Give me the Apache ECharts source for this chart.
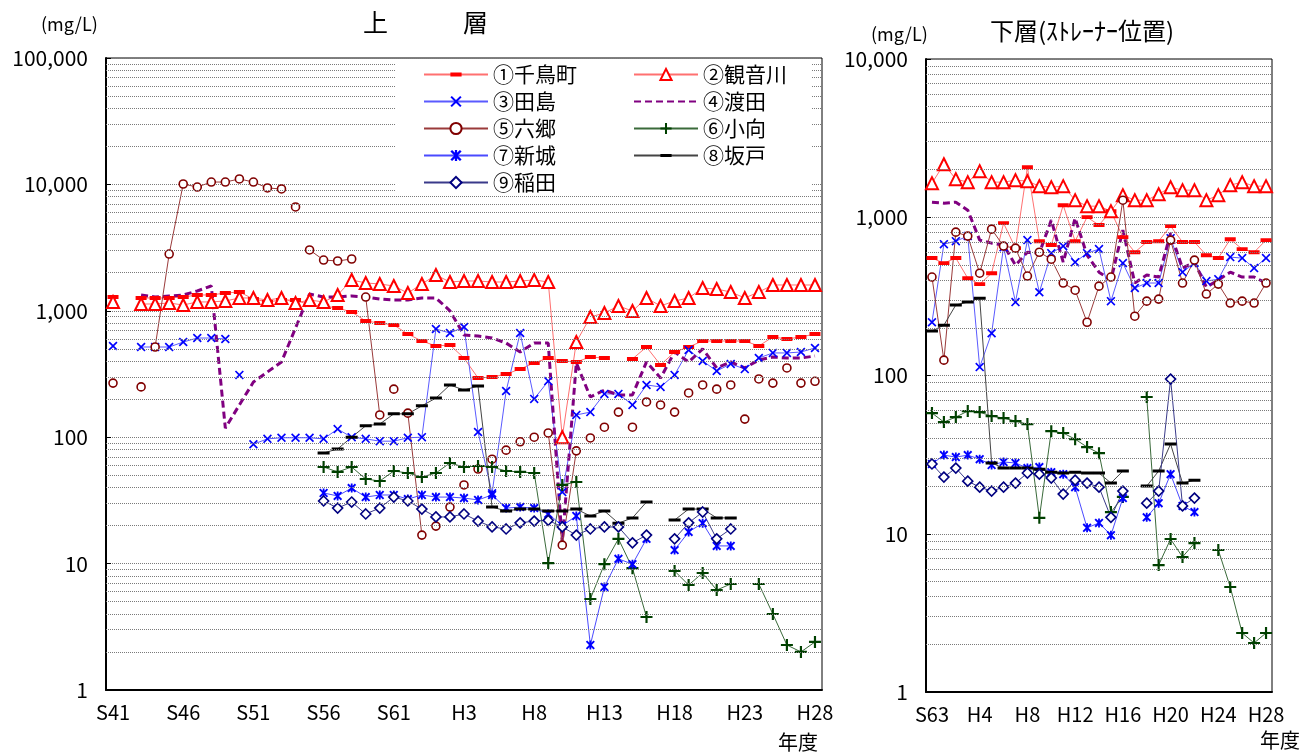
<!DOCTYPE html>
<html>
<head>
<meta charset="utf-8">
<script src="https://cdn.jsdelivr.net/npm/echarts@6/dist/echarts.min.js"></script>
<style>
  html, body { margin: 0; background: #fff; }
  #chart { width: 1310px; height: 753px; }
</style>
</head>
<body>
<div id="chart"></div>
<script>
const FONT = '"Noto Sans CJK JP", "Noto Sans", sans-serif'

// 年度 (x categories)
const yearsUpper = ['S41', 'S42', 'S43', 'S44', 'S45', 'S46', 'S47', 'S48', 'S49', 'S50',
  'S51', 'S52', 'S53', 'S54', 'S55', 'S56', 'S57', 'S58', 'S59', 'S60', 'S61', 'S62', 'S63',
  'H1', 'H2', 'H3', 'H4', 'H5', 'H6', 'H7', 'H8', 'H9', 'H10', 'H11', 'H12', 'H13', 'H14',
  'H15', 'H16', 'H17', 'H18', 'H19', 'H20', 'H21', 'H22', 'H23', 'H24', 'H25', 'H26', 'H27', 'H28']
const yearsLower = ['S63', 'H1', 'H2', 'H3', 'H4', 'H5', 'H6', 'H7', 'H8', 'H9', 'H10', 'H11',
  'H12', 'H13', 'H14', 'H15', 'H16', 'H17', 'H18', 'H19', 'H20', 'H21', 'H22', 'H23', 'H24',
  'H25', 'H26', 'H27', 'H28']

// 上層 (mg/L)
const chidoriUpper = [1286, null, 1263, 1263, 1263, 1286, 1334, 1334, 1383, 1408,
  1240, 1175, 1217, 1217, 1111, 1092, 1052, 979, 830, 800,
  772, 655, 577, 527, 536, 423, 294, 299, 316, 346,
  387, 423, 401, 394, 431, 423, null, 416, 517, 373,
  472, 517, 577, 577, 577, 577, 527, 621, 598, 621, 655]
const kannonUpper = [1175, null, 1132, 1132, 1153, 1111, 1175, 1175, 1196, 1263,
  1263, 1217, 1263, 1153, 1217, 1175, 1334, 1754, 1660, 1630,
  1571, 1383, 1630, 1920, 1690, 1721, 1721, 1690, 1690, 1721,
  1754, 1690, 100, 566, 893, 961, 1092, 996, 1263, 1092,
  1196, 1263, 1514, 1486, 1408, 1263, 1408, 1600, 1600, 1600, 1600]
const tajimaUpper = [527, null, 517, 517, 517, 566, 609, 609, 598, 311,
  88, 97, 99, 99, 99, 97, 116, 100, 97, 93,
  93, 99, 100, 718, 667, 745, 110, 36, 232, 667,
  201, 278, 36.8, 150, 158, 220, 220, 180, 259, 250,
  311, 490, 401, 334, 380, 346, 423, 464, 464, 472, 508]
const watariUpper = [null, null, 1334, 1286, 1310, 1334, 1435, 1571, 118, 180,
  273, 328, 394, 731, 1358, 1286, 1286, 1310, 1286, 1240,
  1217, 1217, 1263, 1263, 1000, 644, 632, 609, 556, 472,
  556, 556, 14.6, 387, 208, 236, 216, 216, 394, 294,
  472, 394, 499, 353, 394, 353, 408, 431, 423, 423, 439]
const rokugoUpper = [268, null, 250, 517, 2813, 10070, 9530, 10440, 10440, 11040,
  10440, 9370, 9200, 6630, 3030, 2522, 2478, 2570, 1285, 150,
  240, 155, 16.8, 19.8, 28, 41.9, 56, 67, 79, 92,
  100, 108, 14, 78, 98.6, 120, 158, 120, 190, 180,
  158, 224, 259, 240, 259, 139, 289, 268, 353, 268, 277]
const komukaiUpper = [null, null, null, null, null, null, null, null, null, null,
  null, null, null, null, null, 58.1, 53.1, 58.1, 46.7, 45.0,
  54.0, 52.1, 48.4, 52.1, 62.5, 58.1, 59.2, 58.1, 54.0, 53.1,
  52.1, 10.1, 41.9, 44.2, 5.25, 9.9, 15.7, 9.2, 3.78, null,
  8.74, 6.77, 8.43, 6.18, 6.9, null, 6.9, 3.99, 2.27, 2.0, 2.4]
const shinjoUpper = [null, null, null, null, null, null, null, null, null, null,
  null, null, null, null, null, 36.2, 34.3, 39.6, 33.6, 34.9,
  34.9, 32.4, 34.9, 33.6, 33.6, 33.0, 31.9, 34.9, 27.5, 28.0,
  27.5, 24.7, 20, 23.8, 2.27, 6.53, 10.9, 9.9, 15.7, null,
  12.8, 17.8, 20.9, 13.8, 13.8]
const sakadoUpper = [null, null, null, null, null, null, null, null, null, null,
  null, null, null, null, null, 75, 80.7, 100, 123, 127,
  153, 153, 177, 204, 259, 236, 254, 28.0, 26.1, 27.0,
  27.0, 26.1, 26.1, 27.0, 23.8, 26.1, 20.9, 23.0, 30.7, null,
  22.1, 27.0, 27.0, 23.0, 23.0]
const inadaUpper = [null, null, null, null, null, null, null, null, null, null,
  null, null, null, null, null, 31.3, 27.5, 30.7, 24.7, 27.5,
  33.6, 31.3, 27.0, 23.4, 23.4, 24.7, 21.7, 19.5, 18.8, 21.0,
  21.7, 22, 19.5, 16.8, 18.8, 19.5, 19.5, 14.6, 16.8, null,
  15.7, 21.0, 25.6, 15.7, 18.8]

// connected stretches (index ranges) where the reference joins the points
const rokugoUpperLinks = [[3, 12], [14, 17], [18, 19], [21, 22], [31, 33]]
const tajimaUpperLinks = [[2, 8], [10, 50]]

// 下層(ストレーナー位置) (mg/L)
const chidoriLower = [552, 513, 552, 412, 378, 443, 918, 638, 2072, 706,
  667, 1192, 706, 1002, 892, 1092, 749, 601, 697, 706,
  879, 697, 697, 576, 552, 727, 629, 601, 717]
const kannonLower = [1642, 2164, 1741, 1667, 1955, 1667, 1667, 1715, 1691, 1572,
  1549, 1572, 1282, 1175, 1175, 1093, 1379, 1282, 1282, 1399,
  1549, 1483, 1483, 1282, 1379, 1595, 1667, 1572, 1572]
const tajimaLower = [217, 676, 706, 760, 113, 185, 647, 291, 717, 336,
  593, 657, 520, 593, 629, 295, 513, 357, 384, 384,
  738, 450, 513, 395, 406, 560, 552, 477, 552]
const watariLower = [1245, 1227, 1245, 1109, 717, 686, 667, 498, 601, 593,
  959, 520, 986, 576, 450, 401, 829, 384, 431, 419,
  794, 477, 520, 362, 401, 450, 419, 419, 384]
const rokugoLower = [419, 125, 805, 760, 443, 841, 657, 638, 425, 601,
  543, 384, 346, 217, 367, 419, 1282, 237, 295, 304,
  717, 384, 536, 327, 378, 287, 295, 287, 384]
const komukaiLower = [57.9, 50.8, 54.6, 59.6, 58.7, 55.4, 53.8, 51.5, 49.3, 12.6,
  44.5, 43.3, 39.6, 35.3, 32.3, 13.7, 17.1, null, 73.1, 6.34,
  9.26, 7.13, 8.73, null, 7.89, 4.61, 2.36, 2.04, 2.36]
const shinjoLower = [27.6, 31.4, 30.5, 31.4, 29.6, 27.2, 28.4, 28.0, 26.0, 26.4,
  24.5, 23.8, 19.7, 10.9, 11.7, 9.8, 16.8, null, 12.7, 15.6,
  23.8, 15.0, 13.7]
const sakadoLower = [191, 208, 279, 291, 308, 28.0, 26.0, 26.0, 26.0, 25.6,
  24.5, 24.2, 24.5, 24.2, 24.2, 20.9, 24.9, null, 20.0, 24.9,
  36.9, 20.9, 21.8]
const inadaLower = [27.6, 22.8, 26.0, 21.5, 19.7, 18.6, 19.7, 20.9, 24.2, 23.8,
  22.5, 17.8, 21.8, 20.9, 19.7, 12.7, 18.6, null, 15.6, 18.6,
  94.9, 15.0, 16.8]

const yTicksUpper = [1, 10, 100, 1000, 10000, 100000]
const yTicksLower = [1, 10, 100, 1000, 10000]
const minorSteps = [2, 3, 4, 5, 6, 7, 8, 9]

// marker shapes (bars padded to a square box so the legend keeps them flat)
const BAR = 'path://M0,3.2H10V6.8H0Z M0,0L0.001,0Z M10,10L9.999,10Z'
const DASH = 'path://M0,4.5H12V7.5H0Z M0,0L0.001,0Z M12,12L11.999,12Z'
const CROSS = 'path://M0,1.3L1.3,0L5,3.7L8.7,0L10,1.3L6.3,5L10,8.7L8.7,10L5,6.3L1.3,10L0,8.7L3.7,5Z'
const STAR = 'path://M0,1.5L1.5,0L5,3.5L8.5,0L10,1.5L6.5,5L10,8.5L8.5,10L5,6.5L1.5,10L0,8.5L3.5,5Z M4,0H6V10H4Z'
const PLUS = 'path://M4.1,0H5.9V4.1H10V5.9H5.9V10H4.1V5.9H0V4.1H4.1Z'

const stations = [
  { name: '①千鳥町', upper: chidoriUpper, lower: chidoriLower, line: '#ff7070', symbol: BAR, size: 11,
    item: { color: '#ff0000' } },
  { name: '②観音川', upper: kannonUpper, lower: kannonLower, line: '#ff7070', symbol: 'triangle', size: 12,
    item: { color: '#fff', borderColor: '#ff0000', borderWidth: 2 } },
  { name: '③田島', upper: tajimaUpper, lower: tajimaLower, upperLinks: tajimaUpperLinks, line: '#5a5aff',
    symbol: CROSS, size: 9, item: { color: '#0000ff' } },
  { name: '④渡田', upper: watariUpper, lower: watariLower, line: '#800080', width: 3, dash: [7, 4] },
  { name: '⑤六郷', upper: rokugoUpper, lower: rokugoLower, upperLinks: rokugoUpperLinks, line: '#9a3a3a',
    symbol: 'circle', size: 8, item: { color: '#fff', borderColor: '#800000', borderWidth: 1.6 } },
  { name: '⑥小向', upper: komukaiUpper, lower: komukaiLower, line: '#3a6a3a', symbol: PLUS, size: 12,
    item: { color: '#004000' } },
  { name: '⑦新城', upper: shinjoUpper, lower: shinjoLower, line: '#4a4aff', symbol: STAR, size: 9,
    item: { color: '#0000ff' } },
  { name: '⑧坂戸', upper: sakadoUpper, lower: sakadoLower, line: '#444', symbol: DASH, size: 12,
    item: { color: '#000' } },
  { name: '⑨稲田', upper: inadaUpper, lower: inadaLower, line: '#3a3a8a', symbol: 'diamond', size: 10,
    item: { color: '#fff', borderColor: '#000080', borderWidth: 1.6 } }
]

function linkRuns (values, links) {
  if (links) return links
  const runs = []
  let start = null
  values.forEach((v, i) => {
    if (v == null) {
      if (start !== null && i - 1 > start) runs.push([start, i - 1])
      start = null
    } else if (start === null) start = i
  })
  if (start !== null && values.length - 1 > start) runs.push([start, values.length - 1])
  return runs
}

function lineLayers (values, runs) {
  const layers = [values.map(() => null), values.map(() => null)]
  runs.forEach((r, k) => {
    for (let i = r[0]; i <= r[1]; i++) layers[k % 2][i] = values[i]
  })
  return layers.filter(l => l.some(v => v != null))
}

function stationSeries (st, values, links, idx) {
  const out = lineLayers(values, linkRuns(values, links)).map(layer => ({
    type: 'line', xAxisIndex: idx, yAxisIndex: idx, data: layer, symbol: 'none', silent: true, z: 2,
    lineStyle: { color: st.line, width: st.width || 1, type: st.dash || 'solid' }
  }))
  if (st.symbol) {
    out.push({
      name: st.name, type: 'line', xAxisIndex: idx, yAxisIndex: idx, data: values, z: 3,
      symbol: st.symbol, symbolSize: st.size, symbolKeepAspect: true, showAllSymbol: true,
      itemStyle: st.item, lineStyle: { color: st.line, width: 1, opacity: 0 }
    })
  } else {
    out[0].name = st.name
  }
  return out
}

function gridSeries (idx, decades) {
  const marks = []
  decades.forEach(d => minorSteps.forEach(m => marks.push({ yAxis: d * m })))
  return {
    type: 'line', xAxisIndex: idx, yAxisIndex: idx, data: [], silent: true, z: 1,
    markLine: {
      silent: true, symbol: 'none', label: { show: false }, animation: false,
      lineStyle: { color: '#7a7a7a', type: 'dotted', width: 1 },
      data: marks
    }
  }
}

const series = [gridSeries(0, yTicksUpper.slice(0, -1)), gridSeries(1, yTicksLower.slice(0, -1))]
stations.forEach(st => {
  series.push(...stationSeries(st, st.upper, st.upperLinks, 0))
})
stations.forEach(st => {
  series.push(...stationSeries(st, st.lower, st.lowerLinks, 1))
})

function xAxis (idx, data, every) {
  return {
    type: 'category', gridIndex: idx, data: data, boundaryGap: true,
    axisLine: { lineStyle: { color: '#000', width: 2 } },
    axisTick: { inside: true, length: 5, interval: 0, lineStyle: { color: '#888' } },
    axisLabel: { interval: every, color: '#000', fontSize: 20, fontFamily: FONT, margin: 12 },
    splitLine: { show: false }
  }
}

function yAxis (idx, ticks) {
  return {
    type: 'log', logBase: 10, gridIndex: idx, min: ticks[0], max: ticks[ticks.length - 1],
    axisLine: { show: true, lineStyle: { color: '#000', width: 2 } },
    axisTick: { show: true, inside: true, length: 5, lineStyle: { color: '#000' } },
    axisLabel: {
      color: '#000', fontSize: 21, fontFamily: FONT, margin: 18,
      formatter: v => Math.round(v).toLocaleString('en-US')
    },
    splitLine: { show: true, lineStyle: { color: '#7a7a7a', type: 'dotted', width: 1 } }
  }
}

function legendData (list) {
  return list.map(n => n === '④渡田'
    ? { name: n, lineStyle: { opacity: 1 }, itemStyle: { opacity: 0, borderWidth: 0 } }
    : { name: n, lineStyle: { opacity: 1 } })
}

const legendBase = {
  orient: 'vertical', top: 59, itemWidth: 64, itemHeight: 14, itemGap: 6,
  selectedMode: false, z: 20,
  textStyle: { fontSize: 21, fontFamily: FONT, color: '#000' }
}

const chart = echarts.init(document.getElementById('chart'))
chart.setOption({
  animation: false,
  backgroundColor: '#fff',
  title: [
    { text: '(mg/L)', left: 36, top: 10, textStyle: { fontSize: 18, fontWeight: 'normal', fontFamily: FONT, color: '#000' } },
    { text: '上　　　層', left: 358, top: 5, textStyle: { fontSize: 25, fontWeight: 'normal', fontFamily: FONT, color: '#000' } },
    { text: '(mg/L)', left: 866, top: 20, textStyle: { fontSize: 18, fontWeight: 'normal', fontFamily: FONT, color: '#000' } },
    { text: '下層(ｽﾄﾚｰﾅｰ位置)', left: 985, top: 14, textStyle: { fontSize: 24, fontWeight: 'normal', fontFamily: FONT, color: '#000' } },
    { text: '年度', left: 773, top: 727, textStyle: { fontSize: 20, fontWeight: 'normal', fontFamily: FONT, color: '#000' } },
    { text: '年度', left: 1255, top: 725, textStyle: { fontSize: 20, fontWeight: 'normal', fontFamily: FONT, color: '#000' } }
  ],
  graphic: {
    elements: [{
      type: 'rect', z: 10, silent: true,
      shape: { x: 395, y: 59, width: 417, height: 137 },
      style: { fill: '#fff' }
    }]
  },
  legend: [
    Object.assign({}, legendBase, { left: 418, data: legendData(['①千鳥町', '③田島', '⑤六郷', '⑦新城', '⑨稲田']) }),
    Object.assign({}, legendBase, { left: 628, data: legendData(['②観音川', '④渡田', '⑥小向', '⑧坂戸']) })
  ],
  grid: [
    { left: 106, right: 488, top: 58, bottom: 63, show: true, borderColor: '#000', borderWidth: 1 },
    { left: 926, right: 38, top: 59, bottom: 61, show: true, borderColor: '#000', borderWidth: 1 }
  ],
  xAxis: [xAxis(0, yearsUpper, 4), xAxis(1, yearsLower, 3)],
  yAxis: [yAxis(0, yTicksUpper), yAxis(1, yTicksLower)],
  series: series
})
</script>
</body>
</html>
